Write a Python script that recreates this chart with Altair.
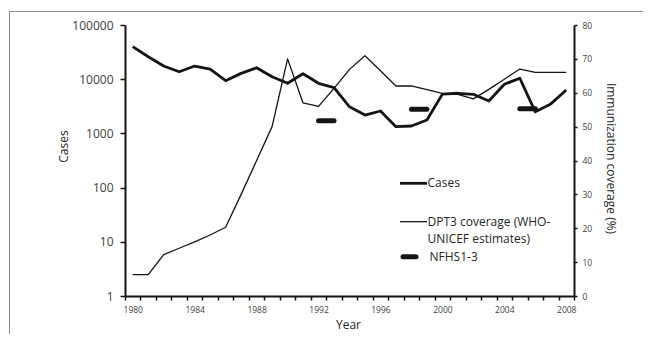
import altair as alt
import pandas as pd

# ---- data ----
years = list(range(1980, 2009))
cases = [39800, 26000, 17500, 13700, 17500, 15400, 9400, 12800, 16300, 11100,
         8400, 12600, 8400, 7000, 3100, 2180, 2590, 1330, 1370, 1770,
         5300, 5500, 5260, 3960, 8050, 10400, 2500, 3500, 6300]
dpt3 = [6.3, 6.3, 12.2, 14.1, 16.0, 18.0, 20.3, 30, 40, 50,
        70, 57, 56, 61.3, 66.9, 70.9, 66.5, 62, 62, 60.9,
        59.8, 59.5, 58.2, 61, 64, 67, 66, 66, 66]
nfhs_survey = ["NFHS-1", "NFHS-2", "NFHS-3"]
nfhs_start = [1992, 1998, 2005]
nfhs_end = [1993, 1999, 2006]
nfhs_value = [51.7, 55.1, 55.3]

left_ticks = [1, 10, 100, 1000, 10000, 100000]
right_ticks = [0, 10, 20, 30, 40, 50, 60, 70, 80]
label_years = [1980, 1984, 1988, 1992, 1996, 2000, 2004, 2008]
legend_labels = ["Cases", "DPT3 coverage (WHO-", "UNICEF estimates)", "NFHS1-3"]

df = pd.DataFrame({"year": years, "cases": cases, "dpt3": dpt3})
nf = pd.DataFrame({"survey": nfhs_survey, "start": nfhs_start,
                   "end": nfhs_end, "value": nfhs_value})

FONT = "Open Sans"
INK = "#141414"

boundaries = [y - 0.5 for y in years] + [years[-1] + 0.5]
x_values = boundaries + label_years

x_scale = alt.Scale(domain=[years[0] - 0.5, years[-1] + 0.5], nice=False, zero=False)
x_axis = alt.Axis(
    values=x_values,
    tickOpacity={"condition": {"test": "datum.value % 1 === 0", "value": 0}, "value": 1},
    labelExpr="datum.value % 4 === 0 ? format(datum.value, 'd') : ''",
    labelOverlap=False, labelFlush=False, labelBound=False,
    tickSize=4, tickWidth=1.5, tickColor=INK,
    domainColor=INK, domainWidth=2,
    labelFont=FONT, labelFontSize=8.5, labelColor="#404040", labelPadding=5,
    title="Year", titleX=223, titleY=28.5, titleFont=FONT, titleFontSize=12,
    titleFontWeight="normal", titleColor="#262626",
    titleBaseline="middle", titleAlign="center", grid=False,
)


def xenc(field="year"):
    return alt.X(f"{field}:Q", scale=x_scale, axis=x_axis)


cases_line = alt.Chart(df).mark_line(
    color=INK, strokeWidth=2.8, strokeJoin="round"
).encode(
    x=xenc(),
    y=alt.Y("cases:Q",
            scale=alt.Scale(type="log", domain=[1, 100000], nice=False),
            axis=alt.Axis(values=left_ticks, format="d", orient="left",
                          tickSize=5, tickWidth=1.5, tickColor=INK,
                          domainColor=INK, domainWidth=2,
                          labelFont=FONT, labelFontSize=12, labelColor="#404040",
                          labelPadding=7, grid=False,
                          title="Cases", titleX=-62, titleY=121, titleAngle=270,
                          titleFont=FONT, titleFontSize=12, titleFontWeight="normal",
                          titleColor="#262626", titleBaseline="middle",
                          titleAlign="center")),
)

right_scale = alt.Scale(domain=[0, 80], nice=False, zero=True)
right_axis = alt.Axis(values=right_ticks, orient="right",
                      tickSize=3, tickWidth=1.5, tickColor=INK,
                      domainColor=INK, domainWidth=2,
                      labelFont=FONT, labelFontSize=8.5, labelColor="#404040",
                      labelPadding=5, grid=False,
                      title="Immunization coverage (%)", titleX=36, titleY=133,
                      titleAngle=90, titleFont=FONT, titleFontSize=12,
                      titleFontWeight="normal", titleColor="#262626",
                      titleBaseline="middle", titleAlign="center")

dpt3_line = alt.Chart(df).mark_line(
    color=INK, strokeWidth=1.3, strokeJoin="round"
).encode(
    x=xenc(),
    y=alt.Y("dpt3:Q", scale=right_scale, axis=right_axis),
)

nfhs_marks = alt.Chart(nf).mark_rule(
    color=INK, strokeWidth=5, strokeCap="round"
).encode(
    x=xenc("start"),
    x2="end:Q",
    y=alt.Y("value:Q", scale=right_scale, axis=right_axis),
)

right_layer = alt.layer(dpt3_line, nfhs_marks)

# ---- frame and hand-placed legend (decoration) ----
one = pd.DataFrame({"k": [0]})
frame = alt.Chart(one).mark_rect(
    filled=False, stroke="#8a8a8a", strokeWidth=1
).encode(x=alt.value(-115.5), x2=alt.value(540), y=alt.value(-13.5), y2=alt.value(330))

leg_case = alt.Chart(one).mark_rule(color=INK, strokeWidth=2.8).encode(
    x=alt.value(275), x2=alt.value(302), y=alt.value(158.3))
leg_dpt = alt.Chart(one).mark_rule(color=INK, strokeWidth=1.3).encode(
    x=alt.value(275), x2=alt.value(302), y=alt.value(196.7))
leg_nfhs = alt.Chart(one).mark_rule(color=INK, strokeWidth=5, strokeCap="round").encode(
    x=alt.value(278), x2=alt.value(291), y=alt.value(231.7))


def leg_text(label, x, y):
    return alt.Chart(pd.DataFrame({"t": [label]})).mark_text(
        align="left", baseline="middle", font=FONT, fontSize=12, color="#262626"
    ).encode(text="t:N", x=alt.value(x), y=alt.value(y))


texts = [
    leg_text(legend_labels[0], 302.5, 158.3),
    leg_text(legend_labels[1], 302.5, 197),
    leg_text(legend_labels[2], 302.5, 213.5),
    leg_text(legend_labels[3], 304.5, 231.5),
]

chart = alt.layer(
    frame, cases_line, right_layer, leg_case, leg_dpt, leg_nfhs, *texts
).resolve_scale(
    y="independent"
).properties(
    width=449, height=271,
    padding={"left": 117, "top": 17, "right": 69, "bottom": 38},
    autosize=alt.AutoSizeParams(type="none"),
    background="white",
).configure_view(strokeWidth=0)

chart.save("out.html", embed_options={"renderer": "svg", "actions": False})
